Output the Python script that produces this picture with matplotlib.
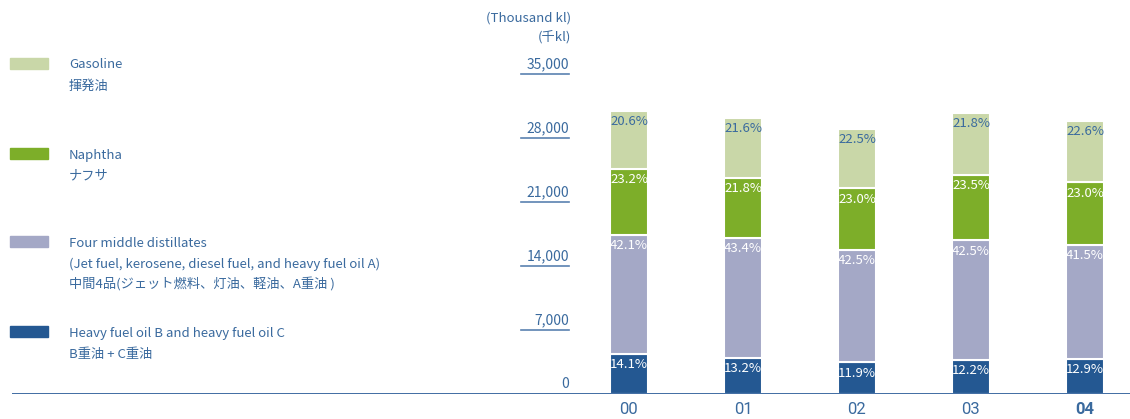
import matplotlib
matplotlib.use("Agg")
import matplotlib.pyplot as plt
from matplotlib.patches import Rectangle
import numpy as np

# data (thousand kl), shares in %
years = ["00", "01", "02", "03", "04"]
totals = [31000, 30200, 29050, 30700, 29900]
heavy_pct = [14.1, 13.2, 11.9, 12.2, 12.9]
middle_pct = [42.1, 43.4, 42.5, 42.5, 41.5]
naphtha_pct = [23.2, 21.8, 23.0, 23.5, 23.0]
gasoline_pct = [20.6, 21.6, 22.5, 21.8, 22.6]
yticks = [0, 7000, 14000, 21000, 28000, 35000]

series = [
    ("Heavy fuel oil B and heavy fuel oil C", heavy_pct, "#245892", "white"),
    ("Four middle distillates", middle_pct, "#a4a8c6", "white"),
    ("Naphtha", naphtha_pct, "#7dae29", "white"),
    ("Gasoline", gasoline_pct, "#c9d7a8", "#3a6a9e"),
]

legend_items = [
    ("#c9d7a8", ["Gasoline", "揮発油"], 58),
    ("#7dae29", ["Naphtha", "ナフサ"], 148),
    ("#a4a8c6", ["Four middle distillates",
                 "(Jet fuel, kerosene, diesel fuel, and heavy fuel oil A)",
                 "中間4品(ジェット燃料、灯油、軽油、A重油 )"], 236),
    ("#245892", ["Heavy fuel oil B and heavy fuel oil C", "B重油 + C重油"], 326),
]

BLUE = "#3a6a9e"
plt.rcParams["font.family"] = ["Noto Sans CJK JP", "DejaVu Sans"]

W, H = 1130, 419
fig = plt.figure(figsize=(W / 100, H / 100), dpi=100)
ax = fig.add_axes([12 / W, (H - 394) / H, (W - 12) / W, 320 / H])

x = np.arange(len(years))
tot = np.array(totals, dtype=float)
bottom = np.zeros(len(years))
for name, pct, col, tcol in series:
    vals = tot * np.array(pct) / 100
    ax.bar(x, vals, width=0.335, bottom=bottom, color=col,
           edgecolor="white", linewidth=1.5)
    for xi, b, v, p in zip(x, bottom, vals, pct):
        ax.annotate(f"{p:.1f}%", (xi, b + v), xytext=(0, -3),
                    textcoords="offset points", ha="center", va="top",
                    fontsize=9.5, color=tcol)
    bottom += vals

ax.set_xlim(-617 / 114, -617 / 114 + 1118 / 114)
ax.set_ylim(0, 35000)
ax.axis("off")

# baseline
ax.axhline(0, color="#2f5f9a", lw=2)

# y ticks as short underlines with labels above
x0, x1 = -108 / 114, -60 / 114
for t in yticks:
    if t > 0:
        ax.plot([x0, x1], [t, t], color="#5a82b0", lw=1.2, clip_on=False)
    ax.annotate(f"{t:,}", (x1, t), xytext=(0, 2), textcoords="offset points",
                ha="right", va="bottom", fontsize=10, color=BLUE)

# x labels
for xi, yr in zip(x, years):
    ax.annotate(yr, (xi, 0), xytext=(0, -11.5), textcoords="offset points",
                ha="center", va="center", fontsize=12, color=BLUE,
                family="Roboto",
                fontweight="bold" if yr == "04" else "normal")

# units
fig.text(571 / W, 1 - 18 / H, "(Thousand kl)", ha="right", va="center",
         fontsize=9.5, color=BLUE)
fig.text(571 / W, 1 - 37 / H, "(千kl)", ha="right", va="center",
         fontsize=9.5, color=BLUE)

# legend
for col, lines, ytop in legend_items:
    fig.add_artist(Rectangle((10 / W, 1 - (ytop + 11) / H), 38 / W, 11 / H,
                             transform=fig.transFigure, color=col))
    for i, s in enumerate(lines):
        fig.text(69 / W, 1 - (ytop + 7 + 21 * i) / H, s, ha="left",
                 va="center", fontsize=9.5, color=BLUE)

fig.savefig("out.png", dpi=100)
